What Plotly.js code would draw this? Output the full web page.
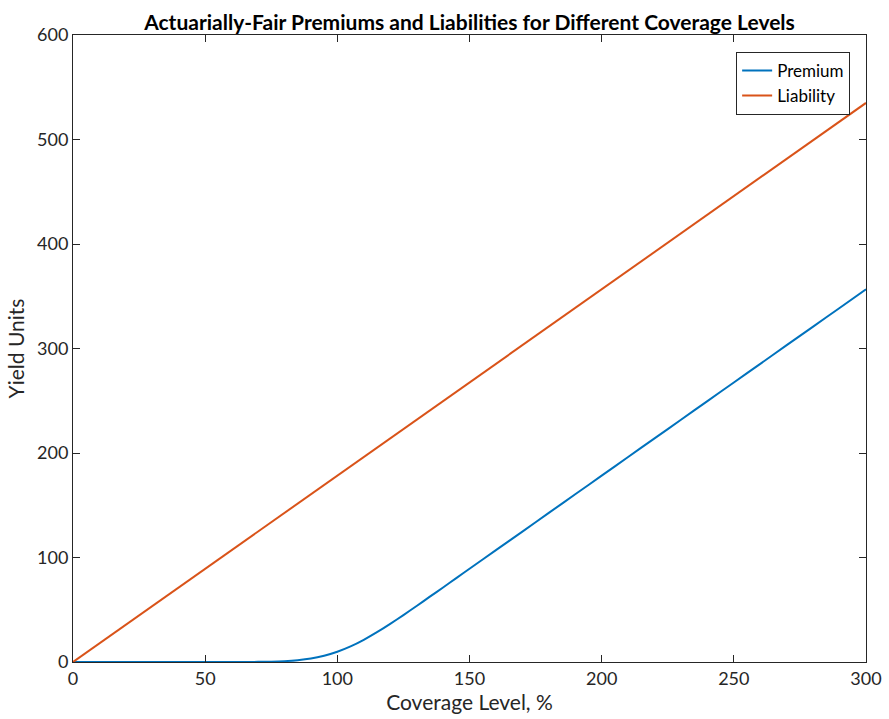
<!DOCTYPE html>
<html>
<head>
<meta charset="utf-8">
<script src="https://cdn.plot.ly/plotly-3.0.1.min.js"></script>
<style>html,body{margin:0;padding:0;background:#fff;}#chart{width:889px;height:719px;}</style>
</head>
<body>
<div id="chart"></div>
<script>
const premiumCoverage = [0,10,20,30,40,50,55,60,65,70,75,80,85,90,95,100,105,110,115,120,125,130,135,140,145,150,160,170,180,190,200,210,220,230,240,250,260,270,280,290,300];
const premiumValues   = [0,0,0,0,0,0,0,0.01,0.04,0.13,0.33,0.79,1.7,3.3,6.0,9.8,14.9,21.2,28.5,36.5,44.9,53.6,62.5,71.3,80.3,89.2,107.0,124.8,142.7,160.5,178.3,196.2,214.0,231.8,249.7,267.5,285.3,303.2,321.0,338.8,356.7];
const liabilityCoverage = [0,50,100,150,200,250,300];
const liabilityValues   = [0,89.2,178.3,267.5,356.7,445.8,535];

const xTicks = [0,50,100,150,200,250,300];
const yTicks = [0,100,200,300,400,500,600];

const fontFam = 'Lato, "Open Sans", sans-serif';
const axisColor = '#262626';

const traces = [
  {x: premiumCoverage, y: premiumValues, type: 'scatter', mode: 'lines', name: 'Premium',
   line: {color: '#0072BD', width: 2, shape: 'spline', smoothing: 0.6}},
  {x: liabilityCoverage, y: liabilityValues, type: 'scatter', mode: 'lines', name: 'Liability',
   line: {color: '#D95319', width: 2}}
];

const axisCommon = {
  showgrid: false, zeroline: false, showline: true, mirror: 'ticks',
  linecolor: axisColor, linewidth: 1, ticks: 'inside', ticklen: 7, tickwidth: 1,
  tickcolor: axisColor, tickfont: {family: fontFam, size: 18, color: axisColor}
};

const layout = {
  width: 889, height: 719,
  margin: {l: 73, r: 23, t: 35, b: 57},
  paper_bgcolor: '#ffffff', plot_bgcolor: '#ffffff',
  title: {text: '<b>Actuarially-Fair Premiums and Liabilities for Different Coverage Levels</b>',
          font: {family: fontFam, size: 21, color: '#000'}, x: 0.5, xref: 'paper', xanchor: 'center',
          y: 1, yref: 'paper', yanchor: 'bottom', pad: {b: 5}},
  xaxis: Object.assign({}, axisCommon, {range: [0, 300], tickvals: xTicks,
          title: {text: 'Coverage Level, %', font: {family: fontFam, size: 21, color: axisColor}, standoff: 2}}),
  yaxis: Object.assign({}, axisCommon, {range: [0, 600], tickvals: yTicks,
          title: {text: 'Yield Units', font: {family: fontFam, size: 21, color: axisColor}, standoff: 6}}),
  legend: {x: 0.98, y: 0.973, xanchor: 'right', yanchor: 'top', bgcolor: '#ffffff',
           bordercolor: axisColor, borderwidth: 1,
           font: {family: fontFam, size: 17, color: '#000'}, tracegroupgap: 0},
  showlegend: true
};

Plotly.newPlot('chart', traces, layout, {displayModeBar: false, staticPlot: true});
</script>
</body>
</html>
